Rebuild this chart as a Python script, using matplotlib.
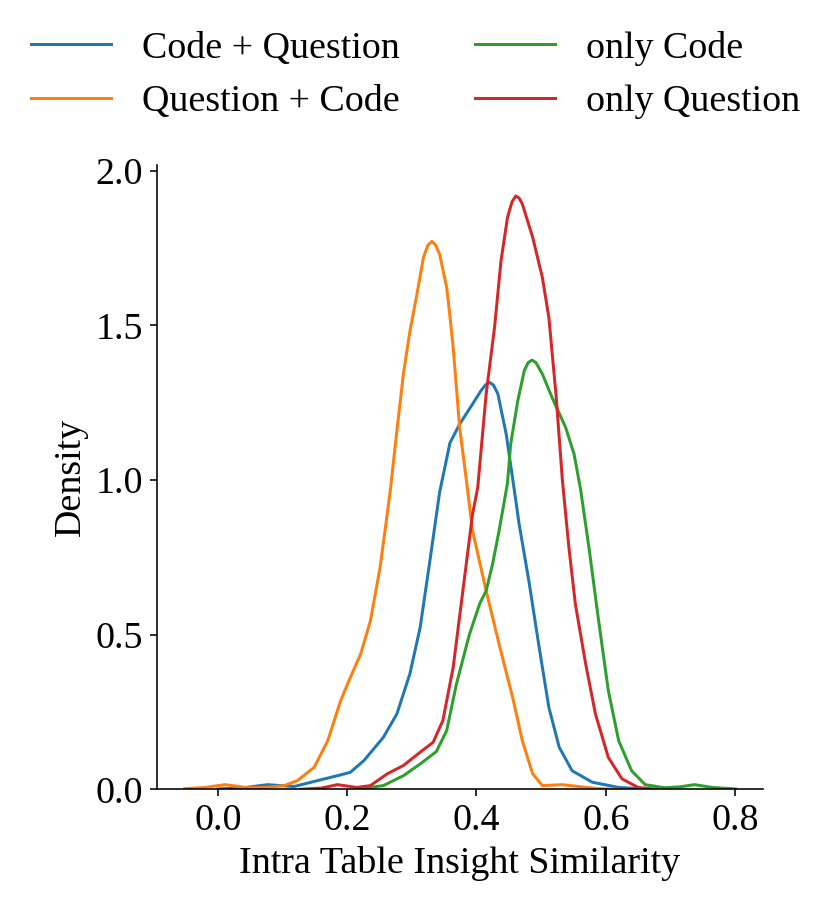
import matplotlib
matplotlib.use("Agg")
import matplotlib.pyplot as plt

plt.rcParams["font.family"] = ["Liberation Serif", "DejaVu Serif"]
plt.rcParams["font.size"] = 19

# KDE 曲线点 (x, density)
labels = ["Code + Question", "Question + Code", "only Code", "only Question"]
colors = ["#1f77b4", "#ff7f0e", "#2ca02c", "#d62728"]

cq_x = [0.0, 0.04, 0.077, 0.118, 0.154, 0.185, 0.205, 0.226, 0.256, 0.277, 0.297,
        0.313, 0.328, 0.343, 0.359, 0.374, 0.394, 0.407, 0.414, 0.420, 0.426, 0.433,
        0.446, 0.458, 0.466, 0.481, 0.497, 0.512, 0.528, 0.548, 0.579, 0.620, 0.66]
cq_y = [0.001, 0.005, 0.015, 0.009, 0.028, 0.044, 0.055, 0.093, 0.168, 0.244, 0.373,
        0.524, 0.739, 0.96, 1.12, 1.181, 1.246, 1.289, 1.308, 1.316, 1.308, 1.280,
        1.149, 0.976, 0.858, 0.675, 0.459, 0.265, 0.136, 0.060, 0.023, 0.006, 0.001]

qc_x = [-0.051, -0.02, 0.011, 0.047, 0.075, 0.103, 0.123, 0.149, 0.170, 0.190, 0.205,
        0.221, 0.236, 0.251, 0.262, 0.267, 0.277, 0.287, 0.297, 0.308, 0.318, 0.325,
        0.331, 0.337, 0.343, 0.354, 0.359, 0.364, 0.369, 0.374, 0.385, 0.394, 0.415,
        0.435, 0.456, 0.471, 0.487, 0.502, 0.533, 0.558, 0.589, 0.62]
qc_y = [0.002, 0.006, 0.015, 0.005, 0.006, 0.012, 0.028, 0.071, 0.157, 0.287, 0.362,
        0.438, 0.545, 0.718, 0.890, 0.971, 1.16, 1.343, 1.48, 1.602, 1.720, 1.760,
        1.772, 1.760, 1.731, 1.623, 1.53, 1.429, 1.30, 1.170, 0.99, 0.836, 0.642,
        0.470, 0.297, 0.157, 0.050, 0.012, 0.015, 0.009, 0.002, 0.0]

oc_x = [0.215, 0.256, 0.287, 0.313, 0.338, 0.354, 0.369, 0.389, 0.405, 0.415, 0.425,
        0.435, 0.448, 0.453, 0.464, 0.474, 0.480, 0.486, 0.492, 0.502, 0.517, 0.538,
        0.551, 0.561, 0.574, 0.589, 0.604, 0.620, 0.640, 0.661, 0.691, 0.715, 0.737,
        0.765, 0.801]
oc_y = [0.0, 0.012, 0.044, 0.082, 0.122, 0.19, 0.34, 0.50, 0.60, 0.642, 0.729,
        0.836, 0.99, 1.117, 1.257, 1.354, 1.380, 1.388, 1.380, 1.343, 1.267, 1.170,
        1.084, 0.971, 0.782, 0.545, 0.319, 0.157, 0.060, 0.015, 0.005, 0.008, 0.015,
        0.006, 0.001]

oq_x = [0.128, 0.16, 0.185, 0.215, 0.236, 0.262, 0.287, 0.313, 0.333, 0.348, 0.364,
        0.379, 0.394, 0.402, 0.415, 0.428, 0.438, 0.448, 0.455, 0.461, 0.466, 0.471,
        0.487, 0.502, 0.512, 0.523, 0.533, 0.543, 0.553, 0.569, 0.584, 0.604, 0.625,
        0.650, 0.68]
oq_y = [0.0, 0.004, 0.015, 0.006, 0.012, 0.050, 0.077, 0.120, 0.152, 0.222, 0.394,
        0.642, 0.890, 0.976, 1.278, 1.494, 1.709, 1.849, 1.900, 1.919, 1.912, 1.893,
        1.785, 1.655, 1.526, 1.278, 0.998, 0.782, 0.599, 0.405, 0.244, 0.103, 0.034,
        0.006, 0.0]

curves = [(cq_x, cq_y), (qc_x, qc_y), (oc_x, oc_y), (oq_x, oq_y)]

fig = plt.figure(figsize=(831 / 144, 900 / 144), dpi=144)
ax = fig.add_axes([0.189, 0.123, 0.729, 0.694])

for (xs, ys), lab, col in zip(curves, labels, colors):
    ax.plot(xs, ys, color=col, lw=1.5, label=lab)

ax.set_xlim(-0.094, 0.843)
ax.set_ylim(0, 2.02)
ax.set_xticks([0.0, 0.2, 0.4, 0.6, 0.8])
ax.set_yticks([0.0, 0.5, 1.0, 1.5, 2.0])
ax.spines["top"].set_visible(False)
ax.spines["right"].set_visible(False)
ax.set_xlabel("Intra Table Insight Similarity")
ax.set_ylabel("Density")

# 图例放在画布顶部，两列无边框
fig.legend(loc="upper center", bbox_to_anchor=(0.5, 1.004), ncol=2, frameon=False,
           handlelength=2.1, columnspacing=2.0)

fig.savefig("out.png", dpi=144)
